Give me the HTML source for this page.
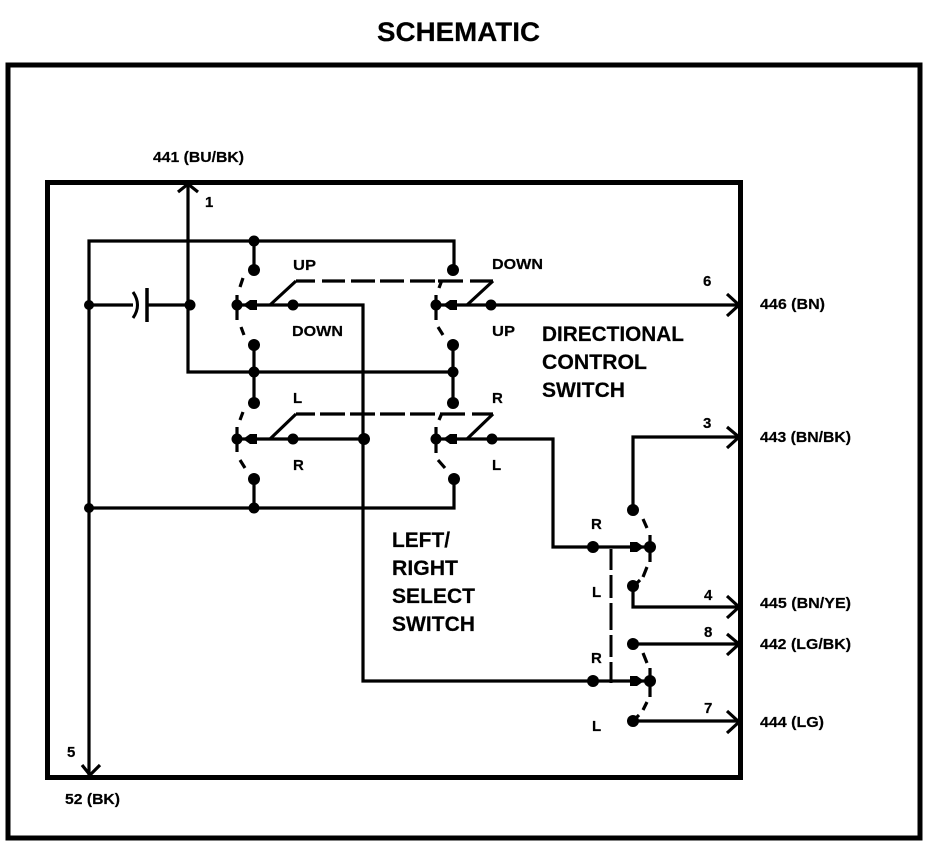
<!DOCTYPE html>
<html>
<head>
<meta charset="utf-8">
<style>
html,body{margin:0;padding:0;background:#fff;}
svg{display:block;}
text{font-family:"Liberation Sans",sans-serif;font-weight:bold;fill:#000;stroke:#000;stroke-width:.2px;}
.s{font-size:15px;}
.m{font-size:21.500px;}
</style>
</head>
<body>
<svg width="932" height="848" viewBox="0 0 932 848" xmlns="http://www.w3.org/2000/svg">
<rect width="932" height="848" fill="#fff"/>
<text x="377" y="41" font-size="27" textLength="163" lengthAdjust="spacingAndGlyphs">SCHEMATIC</text>
<rect x="8" y="65" width="912" height="773" fill="none" stroke="#000" stroke-width="5"/>
<rect x="47.500" y="182.500" width="693" height="595" fill="none" stroke="#000" stroke-width="5"/>

<g fill="none" stroke="#000" stroke-width="3.200">
<path d="M89 775V241H454V270"/>
<path d="M188 185V372H454"/>
<path d="M89 305H133M146 305H188"/>
<path d="M254 241V270M254 345V403M453 345V403M254 479V508M454 479V508H89"/>
<path d="M237 305H363V681H650"/>
<path d="M436 305H738"/>
<path d="M237 439H363M436 439H553V547H650"/>
<path d="M633 510V437H738"/>
<path d="M633 586V607H738"/>
<path d="M633 644H738M633 721H738"/>
<!-- switch arms -->
<path d="M270 305L296 281M467 305L493 281M270 439L296 414M467 439L493 414"/>
<!-- capacitor -->
<path d="M133 292Q142 305 133 318" stroke-width="3"/>
<path d="M147 288V322" stroke-width="3.500"/>
<!-- arrowheads -->
<path d="M178 192L188 184L198 192M82 765L90 775L100 765"/>
<path d="M727 294L739 305L727 316M727 427L739 437L727 448M727 596L739 607L727 618M727 634L739 644L727 655M727 711L739 722L727 733"/>
</g>

<g fill="none" stroke="#000" stroke-width="3.200">
<path d="M296 281H315M322 281H345M351 281H375M380 281H404M410 281H435M438 281H463M470 281H493"/>
<path d="M296 414H315M320 414H345M350 414H375M380 414H405M410 414H435M440 414H465M472 414H493"/>
<path d="M611 549V570M611 575V598M611 603V630M611 635V657M611 662V683" stroke-width="3"/>
<!-- dashed contacts -->
<path d="M243 278L240 287M237 295V320M241 327L244 335"/>
<path d="M243 412L240 420M237 427V452M240 460L245 468"/>
<path d="M442 280L439 288M436 295V320M438 327L443 335"/>
<path d="M442 413L439 420M436 427V453M438 460L445 468"/>
<path d="M643 519L647 528M650 535V562M647 567L643 577M640 580L635 585"/>
<path d="M643 653L647 663M650 668V697M647 702L643 710M639 715L635 719"/>
</g>

<g fill="#000">
<circle cx="89" cy="305" r="5"/><circle cx="190" cy="305" r="5.500"/>
<circle cx="254" cy="241" r="5.500"/><circle cx="254" cy="270" r="6"/>
<circle cx="453" cy="270" r="6"/>
<circle cx="237" cy="305" r="5.500"/><circle cx="293" cy="305" r="5.500"/>
<circle cx="436" cy="305" r="5.500"/><circle cx="491" cy="305" r="5.500"/>
<circle cx="254" cy="345" r="6"/><circle cx="453" cy="345" r="6"/>
<circle cx="254" cy="372" r="5.500"/><circle cx="453" cy="372" r="5.500"/>
<circle cx="254" cy="403" r="6"/><circle cx="453" cy="403" r="6"/>
<circle cx="237" cy="439" r="5.500"/><circle cx="293" cy="439" r="5.500"/><circle cx="364" cy="439" r="6"/>
<circle cx="436" cy="439" r="5.500"/><circle cx="492" cy="439" r="5.500"/>
<circle cx="254" cy="479" r="6"/><circle cx="454" cy="479" r="6"/>
<circle cx="254" cy="508" r="5.500"/><circle cx="89" cy="508" r="5"/>
<circle cx="593" cy="547" r="6"/><circle cx="593" cy="681" r="6"/>
<circle cx="633" cy="510" r="6"/><circle cx="650" cy="547" r="6"/><circle cx="633" cy="586" r="6"/>
<circle cx="633" cy="644" r="6"/><circle cx="650" cy="681" r="6"/><circle cx="633" cy="721" r="6"/>
<!-- contact arrows -->
<path d="M243 305L250 300H257V310H250Z"/>
<path d="M443 305L450 300H457V310H450Z"/>
<path d="M243 439L250 434H257V444H250Z"/>
<path d="M443 439L450 434H457V444H450Z"/>
<path d="M644 547L637 542H630V552H637Z"/>
<path d="M644 681L637 676H630V686H637Z"/>
</g>

<g>
<text class="s" x="153" y="162" textLength="91" lengthAdjust="spacingAndGlyphs">441 (BU/BK)</text>
<text class="s" x="205" y="207">1</text>
<text class="s" x="293" y="270" textLength="23" lengthAdjust="spacingAndGlyphs">UP</text>
<text class="s" x="292" y="336" textLength="51" lengthAdjust="spacingAndGlyphs">DOWN</text>
<text class="s" x="492" y="269" textLength="51" lengthAdjust="spacingAndGlyphs">DOWN</text>
<text class="s" x="492" y="336" textLength="23" lengthAdjust="spacingAndGlyphs">UP</text>
<text class="s" x="703" y="286">6</text>
<text class="s" x="760" y="309" textLength="65" lengthAdjust="spacingAndGlyphs">446 (BN)</text>
<text class="s" x="293" y="403">L</text>
<text class="s" x="293" y="470">R</text>
<text class="s" x="492" y="403">R</text>
<text class="s" x="492" y="470">L</text>
<text class="s" x="703" y="428">3</text>
<text class="s" x="760" y="442" textLength="91" lengthAdjust="spacingAndGlyphs">443 (BN/BK)</text>
<text class="s" x="591" y="529">R</text>
<text class="s" x="592" y="597">L</text>
<text class="s" x="591" y="663">R</text>
<text class="s" x="592" y="731">L</text>
<text class="s" x="704" y="600">4</text>
<text class="s" x="760" y="608" textLength="91" lengthAdjust="spacingAndGlyphs">445 (BN/YE)</text>
<text class="s" x="704" y="637">8</text>
<text class="s" x="760" y="649" textLength="91" lengthAdjust="spacingAndGlyphs">442 (LG/BK)</text>
<text class="s" x="704" y="713">7</text>
<text class="s" x="760" y="727" textLength="64" lengthAdjust="spacingAndGlyphs">444 (LG)</text>
<text class="s" x="67" y="757">5</text>
<text class="s" x="65" y="804" textLength="55" lengthAdjust="spacingAndGlyphs">52 (BK)</text>
</g>

<text class="m" x="542" y="341" textLength="142" lengthAdjust="spacingAndGlyphs">DIRECTIONAL</text>
<text class="m" x="542" y="369" textLength="105" lengthAdjust="spacingAndGlyphs">CONTROL</text>
<text class="m" x="542" y="397" textLength="83" lengthAdjust="spacingAndGlyphs">SWITCH</text>
<text class="m" x="392" y="547" textLength="58" lengthAdjust="spacingAndGlyphs">LEFT/</text>
<text class="m" x="392" y="575" textLength="66" lengthAdjust="spacingAndGlyphs">RIGHT</text>
<text class="m" x="392" y="603" textLength="83" lengthAdjust="spacingAndGlyphs">SELECT</text>
<text class="m" x="392" y="631" textLength="83" lengthAdjust="spacingAndGlyphs">SWITCH</text>
</svg>
</body>
</html>
